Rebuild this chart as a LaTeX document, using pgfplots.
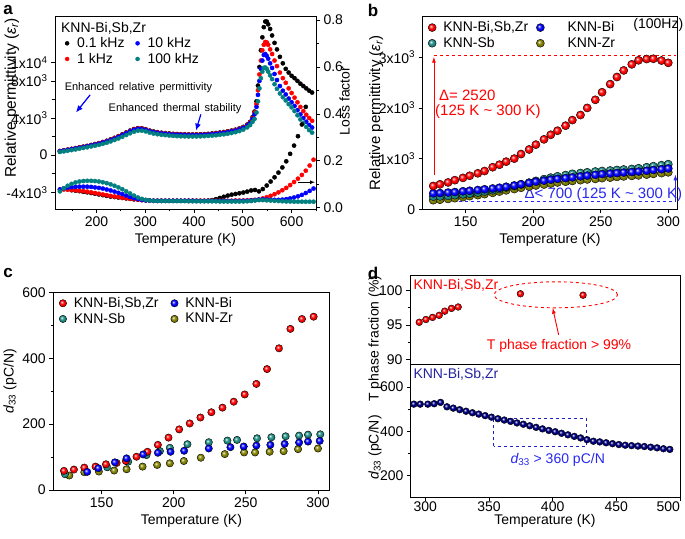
\documentclass[border=0pt]{standalone}
\usepackage{pgfplots}
\pgfplotsset{compat=1.18}
\usepackage{pgfplotstable}
\usepackage{fontspec}
\setmainfont{Liberation Sans}
\usetikzlibrary{arrows.meta}

\definecolor{tealc}{RGB}{0,128,128}
\definecolor{tealb}{RGB}{30,140,130}
\definecolor{olivec}{RGB}{128,128,0}
\definecolor{navyc}{RGB}{0,0,128}
\definecolor{annblue}{RGB}{40,40,240}
\definecolor{txtnavy}{RGB}{35,35,160}

% brighter spheres than the stock ball shading
\makeatletter
\pgfdeclareradialshading[tikz@ball]{ball}{\pgfqpoint{-9bp}{9bp}}{%
  color(0bp)=(tikz@ball!5!white);
  color(5bp)=(tikz@ball!45!white);
  color(13bp)=(tikz@ball);
  color(28bp)=(tikz@ball!85!black);
  color(50bp)=(tikz@ball!55!black)}
\makeatother

\newcommand{\fs}{\fontsize{14}{16}\selectfont}

\pgfplotsset{
  panel/.style={
    scale only axis, anchor=south west, clip=false,
    tick align=outside, xtick pos=bottom, ytick pos=left,
    axis line style={line width=0.8pt},
    tick style={black, line width=0.8pt},
    major tick length=4pt, minor tick length=2.5pt,
    /pgf/number format/assume math mode=true,
    tick label style={font=\fs},
    label style={font=\fs},
    scaled ticks=false,
    legend style={draw=none, fill=none, font=\fs, inner sep=0pt},
    legend cell align=left,
    legend image code/.code={\draw[##1] plot coordinates {(0.12cm,0cm)};},
  },
}

% panel a: permittivity, 0.1 / 1 / 10 / 100 kHz
\pgfplotstableread{
T    e01    e1     e10    e100
125   450    440    420    350
133   520    505    490    410
141   600    585    565    480
149   680    665    640    550
157   760    740    715    620
165   840    820    790    700
173   920    900    870    780
181  1000    980    950    850
189  1100   1070   1040    940
197  1200   1170   1130   1020
205  1300   1270   1230   1110
213  1420   1390   1350   1220
221  1550   1510   1470   1340
229  1700   1660   1610   1480
237  1870   1830   1780   1640
245  2050   2010   1960   1800
253  2250   2210   2160   1980
261  2450   2410   2360   2170
269  2650   2610   2560   2360
277  2820   2780   2730   2530
285  2920   2880   2830   2640
293  2900   2860   2810   2640
301  2800   2760   2710   2560
309  2650   2610   2570   2430
317  2550   2510   2470   2330
325  2480   2440   2400   2260
333  2420   2380   2340   2200
341  2380   2340   2300   2160
349  2340   2300   2260   2120
357  2300   2260   2220   2080
365  2280   2240   2200   2060
373  2260   2220   2180   2040
381  2250   2210   2170   2030
389  2240   2200   2160   2020
397  2240   2200   2160   2020
405  2240   2200   2160   2020
413  2250   2210   2170   2030
421  2270   2230   2190   2050
429  2300   2260   2220   2080
437  2340   2300   2260   2110
445  2390   2350   2300   2150
453  2440   2400   2350   2200
461  2500   2460   2410   2250
469  2570   2530   2480   2310
477  2650   2610   2560   2390
485  2750   2710   2650   2480
493  2880   2840   2780   2600
501  3050   3000   2940   2760
509  3300   3250   3180   3000
515  3600   3540   3450   3250
520  4100   4000   3900   3600
524  4700   4600   4400   3900
528  5800   5500   5200   4600
531  7500   7000   6500   5800
534  9500   8700   8000   7200
537 11300  10200   9300   8300
540 12700  11300  10200   9000
543 13800  11900  10800   9400
546 14400  12200  10900   9450
549 14400  12150  10700   9300
552 14100  11900  10400   9000
556 13600  11400   9900   8600
560 12900  10900   9400   8200
565 12100  10200   8750   7650
570 11400   9600   8100   7150
576 10600   8900   7450   6650
582  9900   8300   6950   6250
588  9300   7800   6550   5900
594  8900   7200   6100   5500
600  8550   6700   5700   5150
606  8300   6200   5300   4750
612  8000   5700   4850   4300
618  7700   5200   4400   3850
624  7450   4750   4000   3450
630  7200   4350   3600   3050
636  6950   4000   3250   2700
642  6750   3700   2980   2430
}\epsA

% panel a: loss factor
\pgfplotstableread{
T    l01    l1     l10    l100
125  nan    0.078  0.078  0.070
133  nan    0.078  0.083  0.083
141  nan    0.077  0.086  0.094
149  0.075  0.076  0.088  0.102
157  0.073  0.075  0.089  0.108
165  0.071  0.073  0.090  0.112
173  0.068  0.071  0.090  0.114
181  0.066  0.069  0.090  0.115
189  0.063  0.066  0.089  0.115
197  0.060  0.063  0.087  0.114
205  0.057  0.060  0.085  0.112
213  0.054  0.057  0.082  0.109
221  0.051  0.054  0.078  0.105
229  0.048  0.051  0.074  0.100
237  0.046  0.048  0.069  0.094
245  0.044  0.046  0.064  0.087
253  0.042  0.043  0.058  0.079
261  0.040  0.041  0.052  0.070
269  0.038  0.039  0.046  0.061
277  0.036  0.037  0.041  0.052
285  0.035  0.035  0.037  0.044
293  0.033  0.033  0.034  0.038
301  0.032  0.032  0.032  0.034
309  0.031  0.031  0.031  0.031
317  0.030  0.030  0.030  0.030
325  0.030  0.030  0.030  0.029
333  0.030  0.030  0.030  0.029
341  0.030  0.030  0.030  0.029
349  0.030  0.030  0.030  0.029
357  0.030  0.030  0.030  0.029
365  0.030  0.030  0.030  0.029
373  0.030  0.030  0.030  0.029
381  0.030  0.030  0.030  0.029
389  0.030  0.030  0.030  0.028
397  0.030  0.030  0.030  0.028
405  0.030  0.030  0.029  0.028
413  0.030  0.030  0.029  0.028
421  0.030  0.030  0.029  0.028
429  0.031  0.030  0.029  0.028
437  0.033  0.030  0.029  0.028
445  0.037  0.030  0.029  0.028
453  0.042  0.030  0.029  0.027
461  0.047  0.030  0.029  0.027
469  0.052  0.030  0.029  0.027
477  0.056  0.030  0.029  0.027
485  0.059  0.031  0.029  0.027
493  0.062  0.031  0.029  0.027
501  0.065  0.031  0.030  0.027
509  0.069  0.032  0.030  0.028
517  0.074  0.033  0.031  0.029
525  0.076  0.034  0.033  0.031
533  0.070  0.036  0.035  0.033
541  0.080  0.040  0.036  0.033
549  0.095  0.045  0.035  0.032
557  0.112  0.051  0.034  0.031
565  0.130  0.058  0.034  0.030
573  0.150  0.066  0.034  0.029
581  0.172  0.075  0.035  0.028
589  0.198  0.085  0.037  0.027
597  0.230  0.097  0.040  0.027
605  0.265  0.110  0.044  0.026
613  0.305  0.124  0.049  0.026
621  0.355  0.140  0.055  0.026
629  0.430  0.158  0.063  0.026
637  nan    0.180  0.072  0.026
645  nan    0.205  0.082  0.026
}\lossA

% panel b: permittivity at 100 Hz
\pgfplotstableread{
T    r     bl   te   ol
126  460   315  250  180
131  493   320  255  190
137  530   330  265  205
142  575   340  280  220
148  620   355  295  240
153  662   365  310  260
159  710   380  330  280
164  755   395  350  300
170  830   410  375  325
175  880   425  400  350
180  940   445  430  375
186  1000  470  460  400
191  1090  495  490  425
197  1180  520  525  450
202  1276  545  560  470
208  1380  565  595  490
213  1470  585  625  510
218  1550  600  650  530
224  1650  615  675  545
229  1760  630  700  560
235  1860  650  715  575
240  2000  665  730  590
246  2160  680  745  600
251  2310  695  755  615
257  2470  705  765  625
262  2610  715  775  640
267  2740  725  785  650
273  2860  735  795  660
278  2940  745  810  670
284  2965  760  830  685
289  2970  775  850  700
295  2935  790  870  715
300  2890  805  890  730
}\epsB

% panel d: d33 of KNN-Bi,Sb,Zr
\pgfplotstableread{
T    d
291  523
296  523
302  523
307  525
312  531
317  511
322  505
327  498
332  491
337  484
342  478
347  471
352  464
357  457
362  451
367  445
372  438
377  432
382  425
387  418
392  411
397  404
402  398
407  391
412  384
417  377
422  370
427  362
432  355
437  352
442  348
447  344
452  340
457  337
462  335
467  333
472  331
477  328
482  325
487  321
492  318
}\dthree

\begin{document}
\begin{tikzpicture}[font=\fs]

% ---------- a ----------
\begin{axis}[panel, at={(55pt,329pt)}, width=261pt, height=193pt,
  xmin=115, xmax=650, ymin=-5800, ymax=15000,
  xtick={200,300,400,500,600}, minor xtick={150,250,350,450,550,650},
  ytick={-4000,0,4000,8000,10000},
  yticklabels={-4x10\textsuperscript{3},0,4x10\textsuperscript{3},8x10\textsuperscript{3},1x10\textsuperscript{4}},
  minor ytick={-2000,2000,6000},
  xlabel={Temperature (K)},
  ylabel={Relative permittivity ({\itshape ε}\textsubscript{\itshape r})},
  ylabel style={at={(axis description cs:-0.165,0.575)}, anchor=center, font=\fontsize{15.5}{17}\selectfont},
  legend columns=2,
  legend style={at={(axis description cs:0.038,0.9)}, anchor=north west,
    /tikz/every odd column/.append style={column sep=6pt},
    /tikz/every even column/.append style={column sep=9pt}},
]
\addlegendimage{only marks, mark=*, mark size=2pt, black}
\addlegendentry{0.1 kHz}
\addlegendimage{only marks, mark=*, mark size=2pt, blue}
\addlegendentry{10 kHz}
\addlegendimage{only marks, mark=*, mark size=2pt, red}
\addlegendentry{1 kHz}
\addlegendimage{only marks, mark=*, mark size=2pt, tealc}
\addlegendentry{100 kHz}
\addplot[only marks, mark=*, mark size=2.1pt, black, forget plot] table[x=T,y=e01] {\epsA};
\addplot[only marks, mark=*, mark size=2.1pt, red, forget plot] table[x=T,y=e1] {\epsA};
\addplot[only marks, mark=*, mark size=2.1pt, blue, forget plot] table[x=T,y=e10] {\epsA};
\addplot[only marks, mark=*, mark size=2.1pt, tealc, forget plot] table[x=T,y=e100] {\epsA};
\node[anchor=west] at (axis description cs:0.01,0.935) {KNN-Bi,Sb,Zr};
\node[font=\fontsize{11}{13}\selectfont] at (axis cs:286,7300) {Enhanced\, relative\, permittivity};
\draw[blue, line width=1.2pt, -{Latex[length=7pt,width=6pt]}] (axis cs:187,6500) -- (axis cs:158,4600);
\node[font=\fontsize{11}{13}\selectfont] at (axis cs:361,5050) {Enhanced\, thermal\, stability};
\draw[blue, line width=1.2pt, -{Latex[length=7pt,width=6pt]}] (axis cs:414,4400) -- (axis cs:404,2650);
\end{axis}

\begin{axis}[panel, at={(55pt,329pt)}, width=261pt, height=193pt,
  xmin=115, xmax=650, ymin=-0.005, ymax=0.817,
  axis x line=none, axis y line*=right, ytick pos=right,
  tick align=outside,
  ytick={0,0.2,0.4,0.6,0.8}, yticklabels={0.0,0.2,0.4,0.6,0.8},
  minor ytick={0.1,0.3,0.5,0.7},
  ylabel={Loss factor},
  ylabel style={at={(axis description cs:1.11,0.56)}, anchor=center},
]
\addplot[only marks, mark=*, mark size=2.1pt, black] table[x=T,y=l01] {\lossA};
\addplot[only marks, mark=*, mark size=2.1pt, red] table[x=T,y=l1] {\lossA};
\addplot[only marks, mark=*, mark size=2.1pt, blue] table[x=T,y=l10] {\lossA};
\addplot[only marks, mark=*, mark size=2.1pt, tealc] table[x=T,y=l100] {\lossA};
\draw[black, line width=0.9pt, -{Latex[length=5pt,width=4pt]}] (axis cs:613,0.109) -- (axis cs:648,0.109);
\end{axis}

% ---------- b ----------
\begin{axis}[panel, at={(422.7pt,328.7pt)}, width=254.6pt, height=192.6pt,
  xmin=118.2, xmax=306.7, ymin=0, ymax=3800,
  xtick={150,200,250,300},
  ytick={0,1000,2000,3000},
  yticklabels={0,1x10\textsuperscript{3},2x10\textsuperscript{3},3x10\textsuperscript{3}},
  xlabel={Temperature (K)},
  ylabel={Relative permittivity ({\itshape ε}\textsubscript{\itshape r})},
  ylabel style={at={(axis description cs:-0.182,0.5)}, anchor=center, font=\fontsize{15}{17}\selectfont},
  legend columns=2,
  legend style={at={(axis description cs:0.02,0.985)}, anchor=north west,
    /tikz/every odd column/.append style={column sep=5pt},
    /tikz/every even column/.append style={column sep=6pt}},
]
\addlegendimage{only marks, mark=ball, ball color=red, mark size=4pt}
\addlegendentry{KNN-Bi,Sb,Zr}
\addlegendimage{only marks, mark=ball, ball color=blue, mark size=4pt}
\addlegendentry{\hspace{16pt}KNN-Bi}
\addlegendimage{only marks, mark=ball, ball color=tealb, mark size=4pt}
\addlegendentry{KNN-Sb}
\addlegendimage{only marks, mark=ball, ball color=olivec, mark size=4pt}
\addlegendentry{\hspace{16pt}KNN-Zr}
\addplot[only marks, mark=ball, ball color=olivec, mark size=4.1pt, forget plot] table[x=T,y=ol] {\epsB};
\addplot[only marks, mark=ball, ball color=tealb, mark size=4.1pt, forget plot] table[x=T,y=te] {\epsB};
\addplot[only marks, mark=ball, ball color=blue, mark size=4.1pt, forget plot] table[x=T,y=bl] {\epsB};
\addplot[only marks, mark=ball, ball color=red, mark size=4.1pt, forget plot] table[x=T,y=r] {\epsB};
\node[anchor=west] at (axis description cs:0.814,0.957) {(100Hz)};
\draw[red, dashed, line width=0.8pt] (axis cs:126.5,3030) -- (axis cs:306,3030);
\draw[red, line width=0.8pt, -{Latex[length=6pt,width=4pt]}] (axis cs:126.5,680) -- (axis cs:126.5,3010);
\node[red, anchor=west, inner sep=0pt, align=left, font=\fontsize{15}{15}\selectfont] at (axis cs:127.3,2073) {\hspace{4pt}Δ= 2520\\(125 K \textasciitilde{} 300 K)};
\draw[annblue, dashed, line width=0.8pt] (axis cs:127,150) -- (axis cs:305,150);
\draw[annblue, line width=0.8pt, -{Latex[length=6pt,width=4pt]}] (axis cs:305.3,150) -- (axis cs:305.3,690);
\node[annblue, anchor=west, font=\fontsize{15}{17}\selectfont] at (axis cs:191,285) {Δ< 700 (125 K \textasciitilde{} 300 K)};
\end{axis}

% ---------- c ----------
\begin{axis}[panel, at={(53.3pt,48pt)}, width=276.2pt, height=197.7pt,
  xmin=116.5, xmax=308, ymin=0, ymax=600,
  xtick={150,200,250,300}, ytick={0,200,400,600}, minor ytick={100,300,500},
  xlabel={Temperature (K)},
  ylabel={{\itshape d}\textsubscript{33} (pC/N)},
  ylabel style={at={(axis description cs:-0.157,0.55)}, anchor=center},
  legend columns=2,
  legend style={at={(axis description cs:0.02,0.985)}, anchor=north west,
    /tikz/every odd column/.append style={column sep=5pt},
    /tikz/every even column/.append style={column sep=10pt}},
]
\addlegendimage{only marks, mark=ball, ball color=red, mark size=3.7pt}
\addlegendentry{KNN-Bi,Sb,Zr}
\addlegendimage{only marks, mark=ball, ball color=blue, mark size=3.7pt}
\addlegendentry{KNN-Bi}
\addlegendimage{only marks, mark=ball, ball color=tealb, mark size=3.7pt}
\addlegendentry{KNN-Sb}
\addlegendimage{only marks, mark=ball, ball color=olivec, mark size=3.7pt}
\addlegendentry{KNN-Zr}
\addplot[only marks, mark=ball, ball color=olivec, mark size=3.7pt, forget plot] coordinates {
 (127.6,44)(138,54)(148.1,56)(158.7,59)(167.3,63)(178.4,71)(188.5,76)(197.3,81)(207,88)
 (218.8,98)(235.4,109)(248.8,114)(256.4,114)(266.5,116)(276.2,118)(286.2,124)(300,126)};
\addplot[only marks, mark=ball, ball color=tealb, mark size=3.7pt, forget plot] coordinates {
 (124.6,48)(153.9,69)(168.4,86)(181.1,106)(190.4,118)(197.3,128)(209.5,139)(224.3,145)
 (237.2,150)(243.9,152)(257.8,157)(267.7,160)(277.6,163)(286.9,165)(293.1,168)(301.6,169)};
\addplot[only marks, mark=ball, ball color=red, mark size=3.7pt, forget plot] coordinates {
 (123.9,58)(130.8,62)(138,68)(145.8,71)(153,78)(160.4,82)(166.8,88)(174.2,101)(181.8,116)
 (189,137)(196.4,159)(203.8,184)(211.1,202)(218.5,220)(226.1,236)(233.8,250)(241.6,268)
 (249.2,290)(257.3,322)(264.7,367)(273,430)(280.9,489)(288.9,519)(297,526)};
\addplot[only marks, mark=ball, ball color=blue, mark size=3.7pt, forget plot] coordinates {
 (140,55)(147.7,66)(159.2,84)(167.3,96)(178.8,108)(189,113)(197.8,116)(207.2,119)(224.3,126)
 (239.3,130)(248.5,132)(257.3,135)(267,137)(276.9,140)(286.9,144)(293.1,147)(301.2,149)};
\end{axis}

% ---------- d (top) ----------
\begin{axis}[panel, at={(410pt,174pt)}, width=270pt, height=89pt,
  xmin=288, xmax=500, ymin=89.4, ymax=102.2,
  xtick=\empty, ytick={90,95,100}, minor ytick={92.5,97.5},
  ylabel={T phase fraction (\%)},
  ylabel style={at={(axis description cs:-0.13,0.284)}, anchor=center},
]
\addplot[only marks, mark=ball, ball color=red, mark size=3.4pt] coordinates {
 (295.3,95.4)(300.5,95.8)(305.7,96.1)(310.9,96.4)(315.3,97.0)(320.6,97.4)(325.8,97.6)
 (374.7,99.5)(423.9,99.3)};
\node[red, anchor=west] at (axis description cs:0.0,0.888) {KNN-Bi,Sb,Zr};
\draw[red, dashed, line width=0.9pt] (axis cs:402.5,99.35) ellipse [x radius=61.7pt, y radius=13pt];
\draw[red, line width=0.9pt, -{Latex[length=6pt,width=4pt]}] (axis cs:404.7,93.6) -- (axis cs:400,97.5);
\node[red] at (axis cs:405,92.0) {T phase fraction > 99\%};
\end{axis}

% ---------- d (bottom) ----------
\begin{axis}[panel, at={(410pt,40.5pt)}, width=270pt, height=133.5pt,
  xmin=288, xmax=500, ymin=100, ymax=705,
  xtick={300,350,400,450,500},
  xticklabels={300,350,400,450,\makebox[0pt][r]{500}\hspace{2pt}},
  ytick={200,400,600}, minor ytick={300,500},
  major tick length=3pt,
  xticklabel style={yshift=2pt},
  xlabel={Temperature (K)},
  xlabel style={at={(axis description cs:0.5,-0.175)}, anchor=center},
  ylabel={{\itshape d}\textsubscript{33} (pC/N)},
  ylabel style={at={(axis description cs:-0.13,0.375)}, anchor=center},
]
\addplot[only marks, mark=ball, ball color=navyc, mark size=3.4pt] table[x=T,y=d] {\dthree};
\node[txtnavy, anchor=west] at (axis description cs:0.0,0.919) {KNN-Bi,Sb,Zr};
\draw[annblue!80!black, dashed, line width=0.9pt] (axis cs:353.9,332) rectangle (axis cs:426.5,459);
\node[annblue] at (axis cs:404,270) {{\itshape d}\textsubscript{33} > 360 pC/N};
\end{axis}

% panel letters
\node[font=\bfseries\fontsize{17}{19}\selectfont] at (8pt,528pt) {a};
\node[font=\bfseries\fontsize{17}{19}\selectfont] at (373pt,528pt) {b};
\node[font=\bfseries\fontsize{17}{19}\selectfont] at (8pt,265pt) {c};
\node[font=\bfseries\fontsize{17}{19}\selectfont] at (373pt,265pt) {d};

\pgfresetboundingbox
\path[use as bounding box] (0,0) rectangle (685pt,538pt);
\end{tikzpicture}
\end{document}
